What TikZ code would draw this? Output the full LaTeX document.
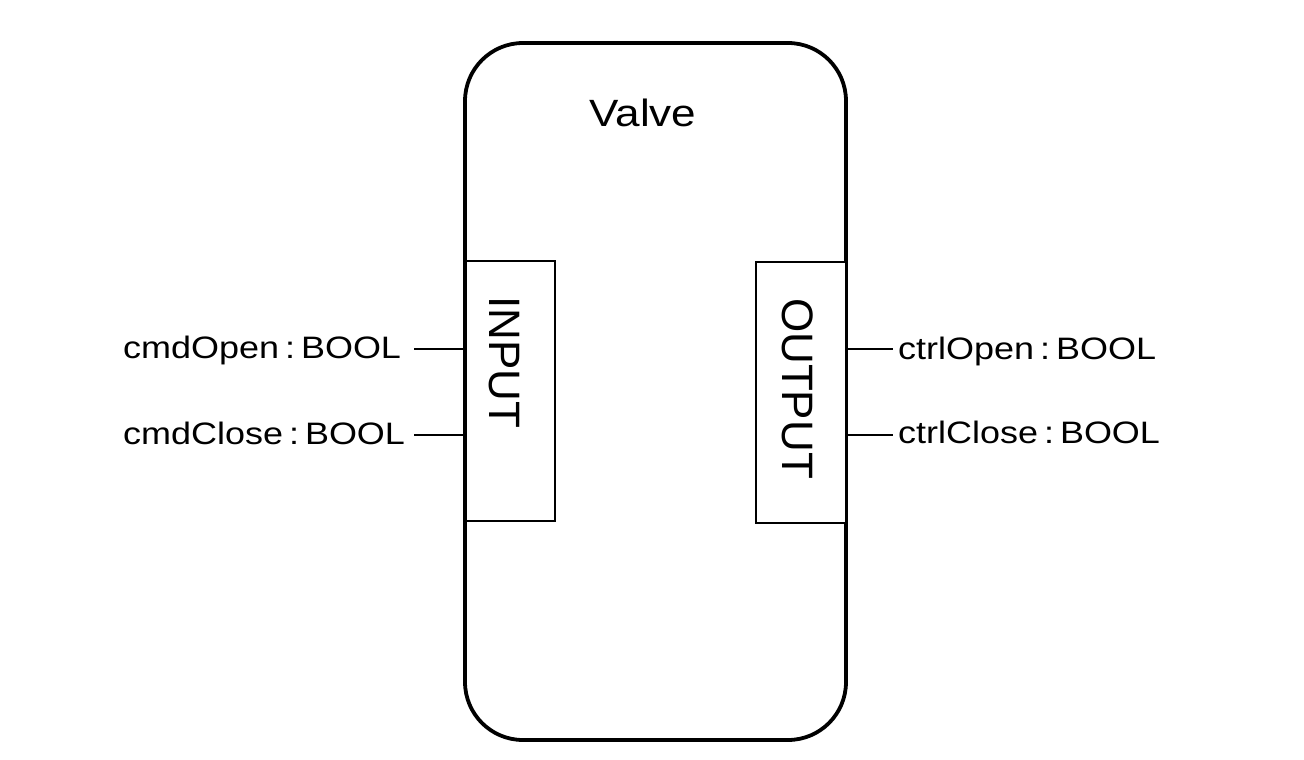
\documentclass[tikz,border=0pt]{standalone}
\usepackage{fontspec}
\setmainfont{Liberation Sans}
\newfontfamily\widefont[FakeStretch=1.16]{Liberation Sans}
\newcommand{\sep}{\kern6pt:\kern6pt}
\begin{document}
\begin{tikzpicture}[x=1pt,y=-1pt,
  mainbox/.style={draw=black, line width=3.8pt, rounded corners=58pt},
  portbox/.style={draw=black, line width=2.3pt, fill=white},
  wire/.style={draw=black, line width=2.3pt},
  lbl/.style={inner sep=0pt, font=\widefont\fontsize{31}{36}\selectfont},
  porttxt/.style={inner sep=0pt, rotate=-90, anchor=base, font=\fontsize{44}{50}\selectfont},
  title/.style={inner sep=0pt, anchor=base, font=\widefont\fontsize{38}{44}\selectfont}]
\useasboundingbox (0,0) rectangle (1304,760);
% main block
\draw[mainbox] (465,43) rectangle (846,740);
\coordinate (mainW) at (465,391);
\coordinate (mainE) at (846,391);
\node[title] (valve) at (643,126) {Valve};
% port boxes
\draw[portbox] (466,261) rectangle (555,521);
\draw[portbox] (756,262) rectangle (846,523);
\node[porttxt] (input) at (489,362) {INPUT};
\node[porttxt] (output) at (782,388.5) {OUTPUT};
% input labels
\node[lbl, anchor=base west] (cmdopen) at (123,358) {cmdOpen\sep BOOL};
\node[lbl, anchor=base west] (cmdclose) at (123,444) {cmdClose\sep BOOL};
\coordinate (i1) at (414,349);
\coordinate (i2) at (414,435);
\draw[wire] (i1) -- (mainW |- i1);
\draw[wire] (i2) -- (mainW |- i2);
% output labels
\node[lbl, anchor=base west] (ctrlopen) at (898,359) {ctrlOpen\sep BOOL};
\node[lbl, anchor=base west] (ctrlclose) at (898,443) {ctrlClose\sep BOOL};
\coordinate (o1) at (893,349);
\coordinate (o2) at (893,435);
\draw[wire] (mainE |- o1) -- (o1);
\draw[wire] (mainE |- o2) -- (o2);
\end{tikzpicture}
\end{document}
